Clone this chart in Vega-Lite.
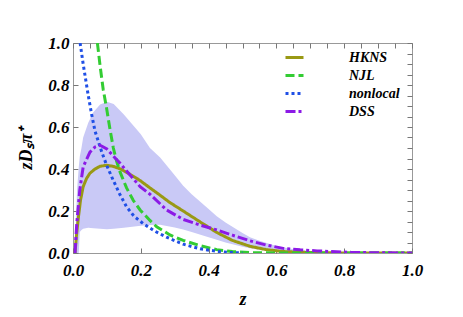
{
  "$schema": "https://vega.github.io/schema/vega-lite/v6.json",
  "width": 339,
  "height": 210,
  "autosize": {"type": "none"},
  "padding": {"left": 73, "top": 43, "right": 51, "bottom": 64},
  "background": "white",
  "config": {
    "view": {"stroke": "#999999", "strokeWidth": 1},
    "axis": {
      "labelFont": "Times New Roman, Liberation Serif, serif", "labelFontWeight": "bold", "labelFontStyle": "italic",
      "labelFontSize": 17, "labelColor": "black",
      "titleFont": "Times New Roman, Liberation Serif, serif", "titleFontWeight": "bold", "titleFontStyle": "italic",
      "titleFontSize": 18, "titleColor": "black",
      "grid": false, "domain": false, "tickColor": "#777777", "tickSize": -5, "tickWidth": 1,
      "labelOverlap": false, "labelBound": false, "labelFlush": false
    }
  },
  "datasets": {
    "band": [
      {"z": 0.005, "lo": 0, "hi": 0},
      {"z": 0.008, "lo": 0, "hi": 0.12},
      {"z": 0.012, "lo": 0, "hi": 0.3},
      {"z": 0.017, "lo": 0, "hi": 0.41},
      {"z": 0.02, "lo": 0.1, "hi": 0.46},
      {"z": 0.025, "lo": 0.11, "hi": 0.5},
      {"z": 0.03, "lo": 0.115, "hi": 0.55},
      {"z": 0.045, "lo": 0.12, "hi": 0.62},
      {"z": 0.06, "lo": 0.118, "hi": 0.67},
      {"z": 0.08, "lo": 0.115, "hi": 0.707},
      {"z": 0.1, "lo": 0.113, "hi": 0.72},
      {"z": 0.12, "lo": 0.115, "hi": 0.71},
      {"z": 0.15, "lo": 0.12, "hi": 0.66},
      {"z": 0.2, "lo": 0.13, "hi": 0.565},
      {"z": 0.227, "lo": 0.133, "hi": 0.5},
      {"z": 0.257, "lo": 0.134, "hi": 0.455},
      {"z": 0.3, "lo": 0.122, "hi": 0.37},
      {"z": 0.325, "lo": 0.112, "hi": 0.32},
      {"z": 0.35, "lo": 0.1, "hi": 0.28},
      {"z": 0.4, "lo": 0.075, "hi": 0.21},
      {"z": 0.424, "lo": 0.063, "hi": 0.175},
      {"z": 0.45, "lo": 0.05, "hi": 0.145},
      {"z": 0.5, "lo": 0.03, "hi": 0.095},
      {"z": 0.522, "lo": 0.023, "hi": 0.075},
      {"z": 0.55, "lo": 0.015, "hi": 0.058},
      {"z": 0.6, "lo": 0.006, "hi": 0.033},
      {"z": 0.65, "lo": 0.003, "hi": 0.018},
      {"z": 0.7, "lo": 0.001, "hi": 0.009},
      {"z": 0.75, "lo": 0, "hi": 0.004},
      {"z": 0.8, "lo": 0, "hi": 0.002},
      {"z": 0.9, "lo": 0, "hi": 0},
      {"z": 1.0, "lo": 0, "hi": 0}
    ],
    "curves": [
      {"model": "HKNS", "z": 0.006, "v": 0},
      {"model": "HKNS", "z": 0.01, "v": 0.08},
      {"model": "HKNS", "z": 0.016, "v": 0.17},
      {"model": "HKNS", "z": 0.022, "v": 0.25},
      {"model": "HKNS", "z": 0.03, "v": 0.316},
      {"model": "HKNS", "z": 0.04, "v": 0.355},
      {"model": "HKNS", "z": 0.05, "v": 0.38},
      {"model": "HKNS", "z": 0.065, "v": 0.4},
      {"model": "HKNS", "z": 0.08, "v": 0.413},
      {"model": "HKNS", "z": 0.1, "v": 0.418},
      {"model": "HKNS", "z": 0.12, "v": 0.412},
      {"model": "HKNS", "z": 0.14, "v": 0.4},
      {"model": "HKNS", "z": 0.168, "v": 0.375},
      {"model": "HKNS", "z": 0.198, "v": 0.345},
      {"model": "HKNS", "z": 0.227, "v": 0.31},
      {"model": "HKNS", "z": 0.257, "v": 0.275},
      {"model": "HKNS", "z": 0.286, "v": 0.24},
      {"model": "HKNS", "z": 0.325, "v": 0.2},
      {"model": "HKNS", "z": 0.375, "v": 0.148},
      {"model": "HKNS", "z": 0.424, "v": 0.098},
      {"model": "HKNS", "z": 0.47, "v": 0.06},
      {"model": "HKNS", "z": 0.522, "v": 0.032},
      {"model": "HKNS", "z": 0.57, "v": 0.016},
      {"model": "HKNS", "z": 0.62, "v": 0.007},
      {"model": "HKNS", "z": 0.7, "v": 0.002},
      {"model": "HKNS", "z": 0.8, "v": 0},
      {"model": "HKNS", "z": 1.0, "v": 0},
      {"model": "NJL", "z": 0.072, "v": 1.0},
      {"model": "NJL", "z": 0.08, "v": 0.89},
      {"model": "NJL", "z": 0.089, "v": 0.78},
      {"model": "NJL", "z": 0.099, "v": 0.69},
      {"model": "NJL", "z": 0.109, "v": 0.59},
      {"model": "NJL", "z": 0.119, "v": 0.5},
      {"model": "NJL", "z": 0.129, "v": 0.435},
      {"model": "NJL", "z": 0.139, "v": 0.385},
      {"model": "NJL", "z": 0.158, "v": 0.31},
      {"model": "NJL", "z": 0.178, "v": 0.25},
      {"model": "NJL", "z": 0.198, "v": 0.205},
      {"model": "NJL", "z": 0.227, "v": 0.155},
      {"model": "NJL", "z": 0.247, "v": 0.125},
      {"model": "NJL", "z": 0.286, "v": 0.086},
      {"model": "NJL", "z": 0.325, "v": 0.06},
      {"model": "NJL", "z": 0.375, "v": 0.035},
      {"model": "NJL", "z": 0.424, "v": 0.016},
      {"model": "NJL", "z": 0.47, "v": 0.007},
      {"model": "NJL", "z": 0.52, "v": 0.002},
      {"model": "NJL", "z": 0.6, "v": 0},
      {"model": "NJL", "z": 1.0, "v": 0},
      {"model": "nonlocal", "z": 0.021, "v": 1.0},
      {"model": "nonlocal", "z": 0.03, "v": 0.9},
      {"model": "nonlocal", "z": 0.045, "v": 0.75},
      {"model": "nonlocal", "z": 0.055, "v": 0.66},
      {"model": "nonlocal", "z": 0.065, "v": 0.58},
      {"model": "nonlocal", "z": 0.075, "v": 0.53},
      {"model": "nonlocal", "z": 0.085, "v": 0.48},
      {"model": "nonlocal", "z": 0.1, "v": 0.415},
      {"model": "nonlocal", "z": 0.119, "v": 0.345},
      {"model": "nonlocal", "z": 0.138, "v": 0.28},
      {"model": "nonlocal", "z": 0.158, "v": 0.22},
      {"model": "nonlocal", "z": 0.18, "v": 0.175},
      {"model": "nonlocal", "z": 0.207, "v": 0.14},
      {"model": "nonlocal", "z": 0.24, "v": 0.105},
      {"model": "nonlocal", "z": 0.276, "v": 0.075},
      {"model": "nonlocal", "z": 0.325, "v": 0.042},
      {"model": "nonlocal", "z": 0.375, "v": 0.02},
      {"model": "nonlocal", "z": 0.424, "v": 0.008},
      {"model": "nonlocal", "z": 0.47, "v": 0.002},
      {"model": "nonlocal", "z": 0.5, "v": 0},
      {"model": "DSS", "z": 0.006, "v": 0},
      {"model": "DSS", "z": 0.011, "v": 0.14},
      {"model": "DSS", "z": 0.02, "v": 0.3},
      {"model": "DSS", "z": 0.03, "v": 0.41},
      {"model": "DSS", "z": 0.05, "v": 0.48},
      {"model": "DSS", "z": 0.065, "v": 0.505},
      {"model": "DSS", "z": 0.08, "v": 0.513},
      {"model": "DSS", "z": 0.1, "v": 0.495},
      {"model": "DSS", "z": 0.12, "v": 0.46},
      {"model": "DSS", "z": 0.139, "v": 0.427},
      {"model": "DSS", "z": 0.158, "v": 0.39},
      {"model": "DSS", "z": 0.198, "v": 0.316},
      {"model": "DSS", "z": 0.227, "v": 0.28},
      {"model": "DSS", "z": 0.276, "v": 0.205},
      {"model": "DSS", "z": 0.325, "v": 0.16},
      {"model": "DSS", "z": 0.375, "v": 0.133},
      {"model": "DSS", "z": 0.424, "v": 0.11},
      {"model": "DSS", "z": 0.47, "v": 0.085},
      {"model": "DSS", "z": 0.522, "v": 0.058},
      {"model": "DSS", "z": 0.57, "v": 0.038},
      {"model": "DSS", "z": 0.62, "v": 0.022},
      {"model": "DSS", "z": 0.67, "v": 0.015},
      {"model": "DSS", "z": 0.72, "v": 0.01},
      {"model": "DSS", "z": 0.82, "v": 0.003},
      {"model": "DSS", "z": 0.9, "v": 0.001},
      {"model": "DSS", "z": 1.0, "v": 0}
    ]
  },
  "layer": [
    {
      "layer": [
        {
          "data": {"name": "band"},
          "mark": {"type": "area", "color": "#c9c9f6", "opacity": 1, "clip": true},
          "encoding": {
            "x": {"field": "z", "type": "quantitative", "scale": {"domain": [0, 1], "nice": false, "zero": false},
              "axis": {"title": "z", "values": [0,0.05,0.1,0.15,0.2,0.25,0.3,0.35,0.4,0.45,0.5,0.55,0.6,0.65,0.7,0.75,0.8,0.85,0.9,0.95,1.0],
                "labelExpr": "round(datum.value*100) % 20 == 0 ? format(datum.value, '.1f') : ''",
                "labelPadding": 14, "titlePadding": 12}},
            "y": {"field": "hi", "type": "quantitative", "scale": {"domain": [0, 1], "nice": false, "zero": false},
              "axis": {"title": "zDₛπ⁺", "values": [0,0.05,0.1,0.15,0.2,0.25,0.3,0.35,0.4,0.45,0.5,0.55,0.6,0.65,0.7,0.75,0.8,0.85,0.9,0.95,1.0],
                "labelExpr": "round(datum.value*100) % 20 == 0 ? format(datum.value, '.1f') : ''",
                "labelPadding": 9, "titlePadding": 12}},
            "y2": {"field": "lo"}
          }
        },
        {
          "data": {"name": "curves"},
          "mark": {"type": "line", "strokeWidth": 3, "clip": true},
          "encoding": {
            "x": {"field": "z", "type": "quantitative"},
            "y": {"field": "v", "type": "quantitative"},
            "color": {"field": "model", "type": "nominal",
              "scale": {"domain": ["HKNS", "NJL", "nonlocal", "DSS"], "range": ["#999914", "#33cc33", "#1f4fe6", "#8c1ae6"]},
              "legend": {"title": null, "orient": "none", "legendX": 211, "legendY": 4, "padding": 0,
                "symbolType": "stroke", "symbolSize": 324, "symbolStrokeWidth": 3, "labelOffset": 44,
                "labelFont": "Times New Roman, Liberation Serif, serif", "labelFontWeight": "bold", "labelFontStyle": "italic",
                "labelFontSize": 14, "labelColor": "black", "rowPadding": 0}},
            "strokeDash": {"field": "model", "type": "nominal",
              "scale": {"domain": ["HKNS", "NJL", "nonlocal", "DSS"], "range": [[1, 0], [9, 4], [3, 3], [10, 3, 3, 3]]},
              "legend": null},
            "order": {"field": "z", "type": "quantitative"}
          }
        }
      ]
    },
    {
      "data": {"name": "band"},
      "mark": {"type": "point", "opacity": 0},
      "encoding": {
        "x": {"field": "z", "type": "quantitative", "scale": {"domain": [0, 1], "nice": false, "zero": false},
          "axis": {"orient": "top", "title": null, "labels": false, "values": [0,0.05,0.1,0.15,0.2,0.25,0.3,0.35,0.4,0.45,0.5,0.55,0.6,0.65,0.7,0.75,0.8,0.85,0.9,0.95,1.0]}},
        "y": {"field": "hi", "type": "quantitative", "scale": {"domain": [0, 1], "nice": false, "zero": false},
          "axis": {"orient": "right", "title": null, "labels": false, "values": [0,0.05,0.1,0.15,0.2,0.25,0.3,0.35,0.4,0.45,0.5,0.55,0.6,0.65,0.7,0.75,0.8,0.85,0.9,0.95,1.0]}}
      }
    }
  ],
  "resolve": {"axis": {"x": "independent", "y": "independent"}}
}
